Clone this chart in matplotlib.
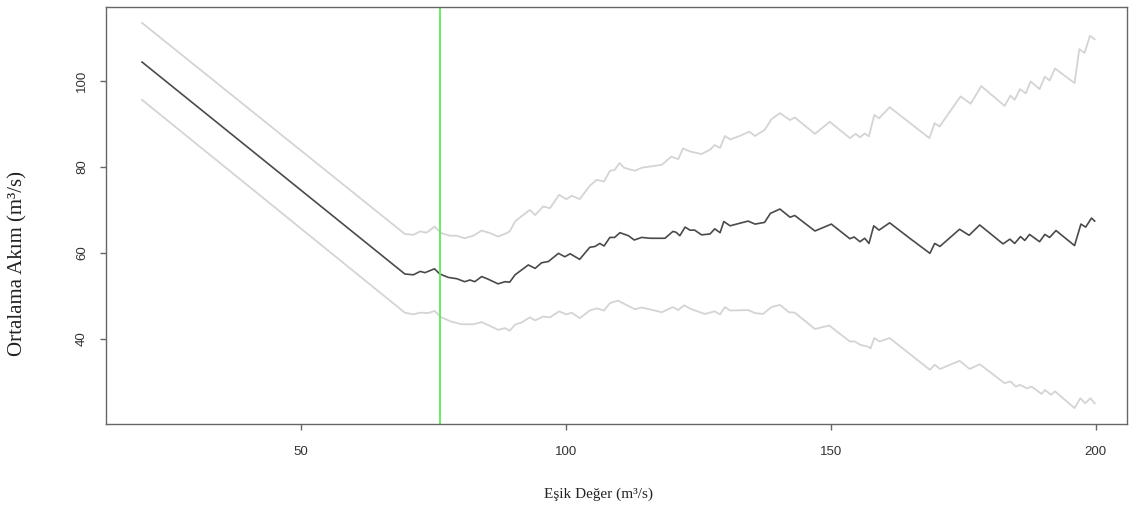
import matplotlib.pyplot as plt

# Mean residual life (threshold vs mean excess) with confidence bands
thr_mean = [20, 69.6, 71.2, 72.5, 73.4, 75.2, 76.2, 77.8, 79.4, 80.9, 81.9, 82.8, 84.1, 85.3,
            87.2, 88.5, 89.4, 90.4, 91.6, 92.9, 94.2, 95.4, 96.7, 98.6, 99.8, 100.8, 102.6,
            104.5, 105.5, 106.4, 107.2, 108.3, 109.2, 110.2, 111.8, 112.9, 114.3, 116.0, 118.7,
            120.2, 120.8, 121.5, 122.5, 123.4, 124.3, 125.6, 127.2, 128.1, 129.1, 129.8, 131.0,
            132.2, 134.4, 135.7, 137.5, 138.6, 140.4, 142.3, 143.2, 147.0, 150.1, 153.6, 154.4,
            155.5, 156.4, 157.2, 158.1, 159.1, 161.1, 164.9, 168.7, 169.6, 170.6, 174.3, 176.1,
            178.1, 182.5, 183.8, 184.7, 185.8, 186.6, 187.5, 189.4, 190.4, 191.3, 192.5, 196.0,
            197.2, 198.1, 199.2, 199.8]
mrl_mean = [104.4, 55.1, 54.9, 55.7, 55.4, 56.3, 55.1, 54.3, 54.0, 53.3, 53.7, 53.3, 54.5, 53.9,
            52.8, 53.3, 53.2, 54.9, 56.0, 57.2, 56.4, 57.7, 58.0, 59.9, 59.1, 59.8, 58.5,
            61.3, 61.5, 62.2, 61.6, 63.6, 63.6, 64.7, 64.0, 63.0, 63.6, 63.4, 63.4,
            65.0, 64.8, 64.0, 66.0, 65.3, 65.3, 64.2, 64.4, 65.6, 64.7, 67.3, 66.3,
            66.7, 67.4, 66.7, 67.1, 69.2, 70.2, 68.3, 68.7, 65.1, 66.7, 63.3, 63.7,
            62.6, 63.4, 62.2, 66.3, 65.3, 67.0, 63.4, 59.9, 62.2, 61.5, 65.5, 64.1,
            66.5, 62.1, 63.2, 62.2, 63.8, 62.9, 64.3, 62.6, 64.3, 63.6, 65.2, 61.7,
            66.7, 66.0, 68.1, 67.4]

thr_upper = [20, 69.6, 71.2, 72.5, 73.7, 75.2, 76.5, 78.1, 79.4, 80.9, 82.5, 84.1, 85.7, 87.2,
             88.8, 89.4, 90.4, 91.6, 93.2, 94.2, 95.7, 97.0, 98.7, 100.1, 101.1, 102.6, 104.5,
             105.8, 107.2, 108.3, 109.2, 110.1, 111.0, 113.0, 114.3, 118.1, 119.9, 121.2, 122.1,
             123.4, 125.6, 127.2, 128.1, 129.1, 130.0, 131.0, 132.8, 134.6, 135.7, 137.5, 138.8,
             140.4, 142.3, 143.2, 147.0, 149.8, 153.6, 154.7, 155.5, 156.4, 157.2, 158.2, 159.1,
             161.1, 168.6, 169.6, 170.5, 174.5, 176.4, 178.4, 182.8, 183.9, 184.7, 185.7, 186.8,
             187.7, 189.4, 190.4, 191.3, 192.3, 196.0, 196.9, 197.9, 198.9, 199.8]
ci_upper = [113.5, 64.4, 64.2, 65.0, 64.7, 66.1, 64.6, 64.0, 64.0, 63.4, 64.0, 65.2, 64.6, 63.8,
            64.6, 65.0, 67.3, 68.5, 70.0, 68.8, 70.8, 70.4, 73.5, 72.5, 73.3, 72.5, 75.6,
            77.0, 76.6, 79.1, 79.3, 80.9, 79.8, 79.1, 79.8, 80.5, 82.4, 81.8, 84.3,
            83.6, 83.0, 84.0, 85.1, 84.4, 87.2, 86.4, 87.2, 88.2, 87.2, 88.6, 91.1,
            92.5, 90.9, 91.5, 87.7, 90.5, 86.7, 87.7, 86.9, 87.8, 87.1, 92.1, 91.3,
            93.9, 86.7, 90.2, 89.4, 96.4, 94.7, 98.8, 94.2, 96.6, 95.6, 98.1, 97.1,
            99.9, 98.1, 101.0, 100.1, 102.9, 99.5, 107.4, 106.5, 110.5, 109.7]

thr_lower = [20, 69.6, 71.2, 72.5, 74.0, 75.2, 76.5, 78.4, 80.3, 82.5, 84.1, 85.7, 87.2, 88.5,
             89.4, 90.4, 91.6, 93.2, 94.2, 95.7, 97.0, 98.7, 100.1, 101.1, 102.6, 104.5, 105.8,
             107.2, 108.3, 109.8, 111.1, 113.0, 114.3, 118.1, 120.2, 121.2, 122.3, 123.7, 126.2,
             128.1, 129.1, 130.0, 131.0, 134.4, 135.7, 137.2, 138.8, 140.4, 142.1, 143.2, 147.0,
             149.7, 153.6, 154.5, 155.6, 157.0, 157.5, 158.2, 159.2, 161.1, 168.7, 169.6, 170.6,
             174.3, 176.2, 178.1, 182.8, 183.9, 184.9, 185.7, 187.0, 187.9, 189.8, 190.4, 191.6,
             192.3, 196.0, 197.1, 198.0, 199.0, 199.8]
ci_lower = [95.6, 46.1, 45.7, 46.1, 46.0, 46.5, 45.0, 44.0, 43.4, 43.4, 43.9, 43.0, 42.1, 42.5,
            41.9, 43.3, 43.8, 45.0, 44.3, 45.2, 45.0, 46.4, 45.7, 46.1, 44.8, 46.6, 47.1,
            46.6, 48.3, 48.9, 48.1, 46.9, 47.3, 46.2, 47.4, 46.7, 47.8, 46.9, 45.8,
            46.4, 45.7, 47.4, 46.6, 46.7, 46.0, 45.8, 47.4, 47.9, 46.2, 46.1, 42.3,
            43.1, 39.4, 39.4, 38.6, 38.2, 37.8, 40.2, 39.4, 40.2, 32.8, 34.0, 33.0,
            34.9, 33.0, 34.1, 29.7, 30.1, 28.9, 29.3, 28.5, 28.9, 27.2, 28.1, 27.0,
            27.8, 23.9, 26.2, 25.0, 26.2, 25.0]

selected_threshold = 76.2
x_ticks = [50, 100, 150, 200]
y_ticks = [40, 60, 80, 100]

fig = plt.figure(figsize=(11.29, 5.07), dpi=100)
ax = fig.add_axes([106 / 1129, 1 - 424 / 507, (1127 - 106) / 1129, (424 - 7) / 507])

ax.plot(thr_upper, ci_upper, color='#d4d4d4', lw=1.3)
ax.plot(thr_lower, ci_lower, color='#d4d4d4', lw=1.3)
ax.plot(thr_mean, mrl_mean, color='#4a4a4a', lw=1.2)
ax.axvline(selected_threshold, color='#55ee55', lw=1.3)

ax.set_xlim(13.2, 205.9)
ax.set_ylim(20.2, 117.2)
ax.set_xticks(x_ticks)
ax.set_yticks(y_ticks)

for s in ax.spines.values():
    s.set_color('#666666')
    s.set_linewidth(1.0)
ax.tick_params(axis='both', direction='out', length=4, width=1, color='#666666',
               labelsize=9.5, labelcolor='#333333', labelfontfamily='Liberation Sans')
ax.tick_params(axis='x', pad=12)
ax.tick_params(axis='y', pad=9)
for lbl in ax.get_yticklabels():
    lbl.set_rotation(90)
    lbl.set_va('center')

ax.set_xlabel('Eşik Değer (m³/s)', family='Liberation Serif', fontsize=11, color='#222222',
              va='center')
ax.xaxis.set_label_coords((599 - 106) / (1127 - 106), -(494 - 424) / (424 - 7))
ax.set_ylabel('Ortalama Akım (m³/s)', family='Liberation Serif', fontsize=15, color='#222222',
              va='center')
ax.yaxis.set_label_coords(-(106 - 18) / (1127 - 106), (424 - 263) / (424 - 7))

fig.savefig('out.png', dpi=100)
